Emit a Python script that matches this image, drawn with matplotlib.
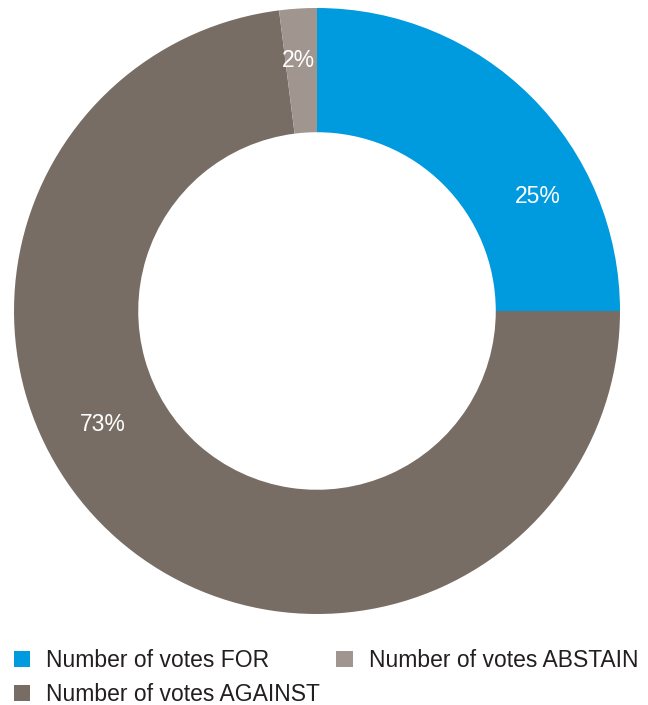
import numpy as np
import matplotlib
matplotlib.use("Agg")
import matplotlib.pyplot as plt
from matplotlib.patches import Patch

plt.rcParams["font.family"] = ["Liberation Sans", "DejaVu Sans"]

labels = ["Number of votes FOR", "Number of votes AGAINST", "Number of votes ABSTAIN"]
shares = [25, 73, 2]
colors = ["#009ADE", "#786D64", "#A1958F"]

# label placement (angle in degrees, radius as fraction of outer radius)
label_angles = [27.4, 207.8, 94.3]
label_radius = [0.82, 0.80, 0.83]

fig = plt.figure(figsize=(6.48, 7.05), dpi=100)
ax = fig.add_axes([14 / 648, 91 / 705, 606 / 648, 606 / 705])

wedges, _ = ax.pie(shares, colors=colors, startangle=90, counterclock=False,
                   radius=1.0, wedgeprops=dict(width=0.41, edgecolor="none"))
ax.set_xlim(-1, 1)
ax.set_ylim(-1, 1)
ax.set_aspect("equal")
ax.axis("off")

for v, a, r in zip(shares, label_angles, label_radius):
    t = np.deg2rad(a)
    ax.text(r * np.cos(t), r * np.sin(t), f"{v}%", ha="center", va="center",
            color="white", fontsize=16.5)

handles = [Patch(facecolor=c, edgecolor="none") for c in colors]
fig.legend(handles, labels, loc="upper left", bbox_to_anchor=(14 / 648, 1 - 649 / 705),
           ncol=2, frameon=False, fontsize=16.5, handlelength=0.7,
           handleheight=0.7, handletextpad=0.7, columnspacing=0.72,
           labelspacing=0.48, borderpad=0, borderaxespad=0,
           labelcolor="#231F20")

fig.savefig("out.png", dpi=100)
